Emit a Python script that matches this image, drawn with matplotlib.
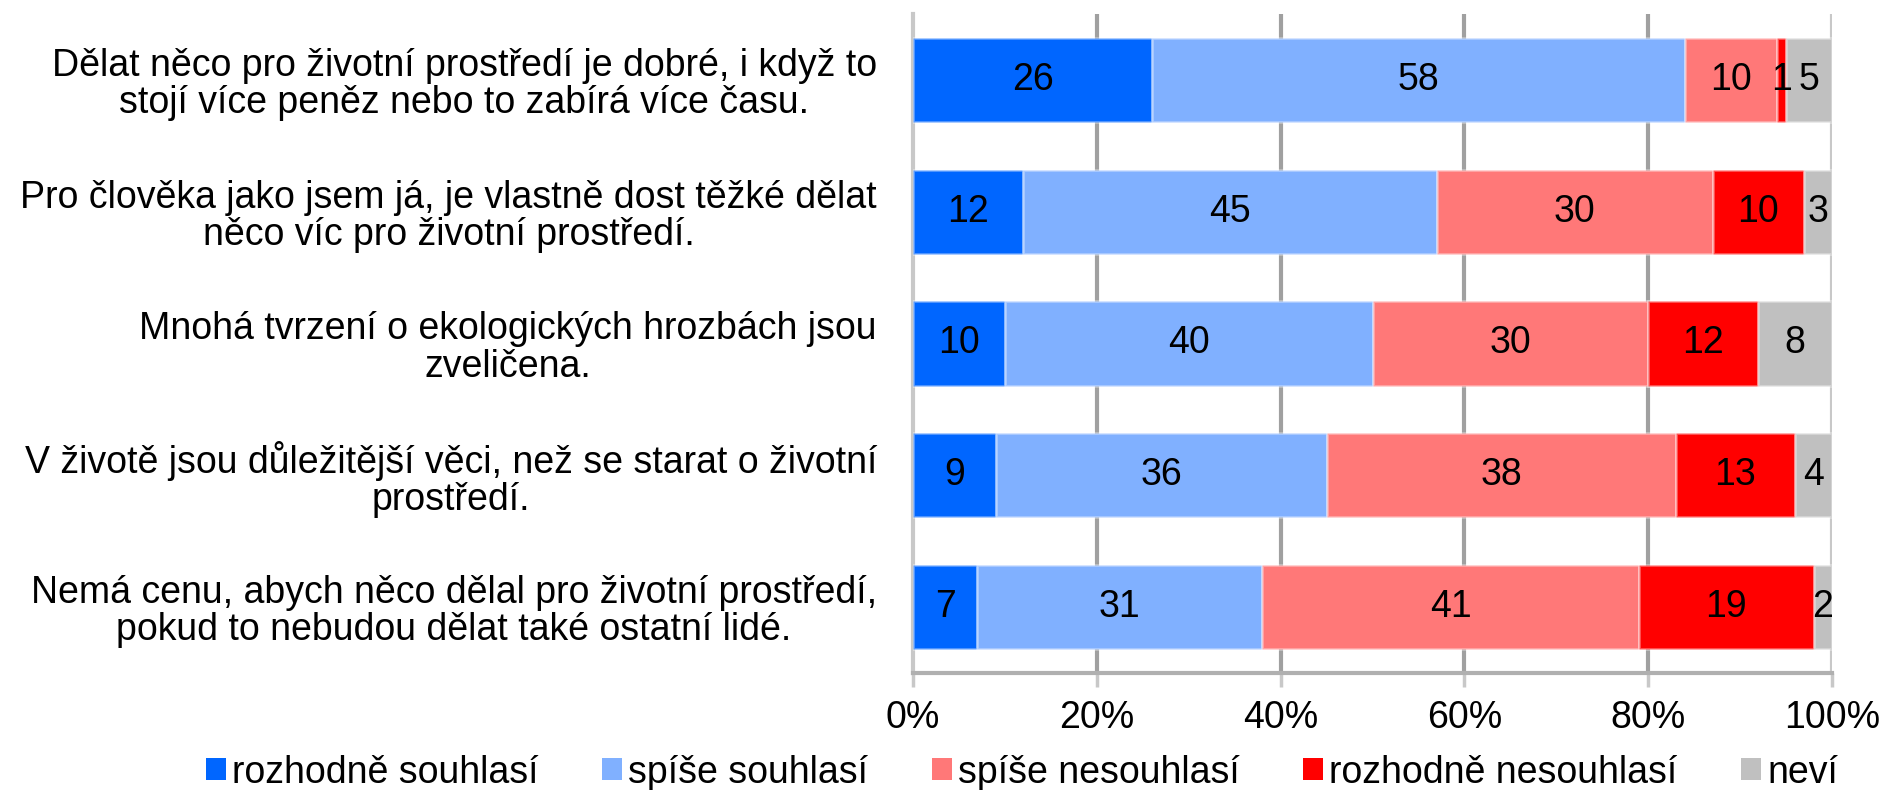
import matplotlib
matplotlib.use("Agg")
import matplotlib.pyplot as plt
from matplotlib.patches import Patch
import numpy as np

plt.rcParams['font.family'] = ['Liberation Sans', 'DejaVu Sans']

categories = [
    "Dělat něco pro životní prostředí je dobré, i když to\nstojí více peněz nebo to zabírá více času.",
    "Pro člověka jako jsem já, je vlastně dost těžké dělat\nněco víc pro životní prostředí.",
    "Mnohá tvrzení o ekologických hrozbách jsou\nzveličena.",
    "V životě jsou důležitější věci, než se starat o životní\nprostředí.",
    "Nemá cenu, abych něco dělal pro životní prostředí,\npokud to nebudou dělat také ostatní lidé.",
]
series_names = ["rozhodně souhlasí", "spíše souhlasí", "spíše nesouhlasí", "rozhodně nesouhlasí", "neví"]
rozhodne_souhlasi = [26, 12, 10, 9, 7]
spise_souhlasi = [58, 45, 40, 36, 31]
spise_nesouhlasi = [10, 30, 30, 38, 41]
rozhodne_nesouhlasi = [1, 10, 12, 13, 19]
nevi = [5, 3, 8, 4, 2]
xtick_labels = ["0%", "20%", "40%", "60%", "80%", "100%"]

series = [rozhodne_souhlasi, spise_souhlasi, spise_nesouhlasi, rozhodne_nesouhlasi, nevi]
colors = ["#0066FF", "#80B0FF", "#FF7878", "#FF0000", "#C0C0C0"]

FS = 27

fig = plt.figure(figsize=(18.83, 7.9), dpi=100)
ax = fig.add_axes([0.4849, 0.1487, 0.488, 0.8333])

y = np.arange(len(categories))
left = np.zeros(len(categories))
for vals, col, name in zip(series, colors, series_names):
    vals = np.array(vals, dtype=float)
    ax.barh(y, vals, left=left, height=0.64, color=col,
            edgecolor=(1, 1, 1, 0.35), linewidth=2, zorder=3, label=name)
    for yi, l, v in zip(y, left, vals):
        ax.text(l + v / 2, yi, f"{int(v)}", ha='center', va='center',
                fontsize=FS, color='black', zorder=5)
    left += vals

ax.set_xlim(0, 100)
ax.set_ylim(len(categories) - 0.5, -0.5)
ax.set_xticks([0, 20, 40, 60, 80, 100])
ax.set_xticklabels(xtick_labels, fontsize=FS)
ax.set_yticks(y)
ax.set_yticklabels(categories, fontsize=FS, multialignment='center', linespacing=1.05)
ax.tick_params(axis='y', length=0, pad=26)
ax.tick_params(axis='x', length=10, width=2.5, color='#C8C8C8', pad=10)

for xv in [20, 40, 60, 80]:
    ax.axvline(xv, color='#A0A0A0', linewidth=3, zorder=1)
ax.axvline(100, color='#C8C8C8', linewidth=3, zorder=1)

for s in ['top', 'right']:
    ax.spines[s].set_visible(False)
ax.spines['left'].set_color('#C8C8C8')
ax.spines['left'].set_linewidth(3)
ax.spines['bottom'].set_color('#B0B0B0')
ax.spines['bottom'].set_linewidth(3)

handles = [Patch(facecolor=c, edgecolor='none') for c in colors]
fig.legend(handles, series_names, loc='center', bbox_to_anchor=(0.5428, 0.022),
           ncol=5, frameon=False, fontsize=FS, handlelength=0.53, handleheight=0.53,
           handletextpad=0.16, columnspacing=1.7, borderpad=0, borderaxespad=0)

fig.savefig("out.png", dpi=100)
